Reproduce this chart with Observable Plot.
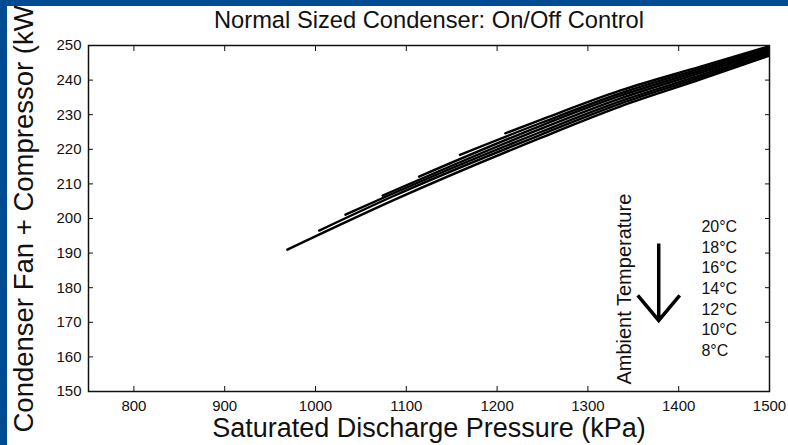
<!DOCTYPE html>
<html>
<head>
<meta charset="utf-8">
<script src="https://cdn.jsdelivr.net/npm/d3@7"></script>
<script src="https://cdn.jsdelivr.net/npm/@observablehq/plot@0.6"></script>
<style>
  html, body { margin: 0; padding: 0; background: #fff; }
  #wrap { position: relative; width: 788px; height: 445px; overflow: hidden; background: #fff; }
  #edge { position: absolute; left: 0; top: 0; width: 788px; height: 445px; box-sizing: border-box;
          border-left: 7px solid #004b91; border-top: 6px solid #004b91; pointer-events: none; }
</style>
</head>
<body>
<div id="wrap"><div id="chart"></div><div id="edge"></div></div>
<script>
// Ambient temperatures (°C), one curve each
const temps = [8, 10, 12, 14, 16, 18, 20];

// Saturated discharge pressure (kPa) and condenser fan + compressor power (kW) per ambient temperature
const p08 = [969, 1086, 1248, 1336, 1424, 1500];
const kw08 = [191.0, 205.3, 223.3, 232.4, 240.2, 247.1];
const p10 = [1004, 1086, 1248, 1336, 1424, 1500];
const kw10 = [196.5, 206.5, 224.2, 233.2, 240.8, 247.6];
const p12 = [1033, 1086, 1248, 1336, 1424, 1500];
const kw12 = [201.1, 207.3, 225.0, 233.9, 241.4, 248.0];
const p14 = [1074, 1248, 1336, 1424, 1500];
const kw14 = [206.6, 225.9, 234.7, 242.1, 248.5];
const p16 = [1114, 1248, 1336, 1424, 1500];
const kw16 = [212.1, 226.8, 235.5, 242.7, 248.9];
const p18 = [1159, 1248, 1336, 1424, 1500];
const kw18 = [218.4, 227.6, 236.2, 243.3, 249.4];
const p20 = [1209, 1248, 1336, 1424, 1500];
const kw20 = [224.6, 228.5, 237.0, 243.9, 249.8];

// Axis ticks
const xTicks = [800, 900, 1000, 1100, 1200, 1300, 1400, 1500];
const yTicks = [150, 160, 170, 180, 190, 200, 210, 220, 230, 240, 250];

// Texts
const title = "Normal Sized Condenser: On/Off Control";
const xLabel = "Saturated Discharge Pressure (kPa)";
const yLabel = "Condenser Fan + Compressor (kW)";
const legendTitle = "Ambient Temperature";
const tempLabels = temps.slice().reverse().map(t => `${t}\u00B0C`);

// Long-format rows for the line mark
const pressures = [p08, p10, p12, p14, p16, p18, p20];
const powers = [kw08, kw10, kw12, kw14, kw16, kw18, kw20];
const rows = temps.flatMap((t, i) =>
  pressures[i].map((p, j) => ({temp: t, pressure: p, power: powers[i][j]}))
);

// Downward arrow: shaft plus two wings at the tip
const downArrow = {
  draw(context, l) {
    context.moveTo(0, 0);
    context.lineTo(0, -l);
    context.moveTo(-21, -l + 25);
    context.lineTo(0, -l);
    context.lineTo(21, -l + 25);
  }
};

const font = "'Liberation Sans', Arial, Helvetica, sans-serif";
const plain = d => String(d);

const chart = Plot.plot({
  width: 788,
  height: 445,
  marginLeft: 88,
  marginRight: 19,
  marginTop: 45,
  marginBottom: 54,
  style: {fontFamily: font, background: "transparent", color: "#111"},
  x: {domain: [750, 1500]},
  y: {domain: [150, 250]},
  marks: [
    Plot.line(rows, {x: "pressure", y: "power", z: "temp", stroke: "#000", strokeWidth: 2.4, curve: "monotone-x", clip: true}),
    Plot.axisX(xTicks, {anchor: "bottom", tickSize: 0, tickPadding: 9, fontSize: 15, tickFormat: plain, label: null}),
    Plot.axisX(xTicks, {anchor: "bottom", tickSize: -5, tickFormat: () => "", label: null}),
    Plot.axisX(xTicks, {anchor: "top", tickSize: -5, tickFormat: () => "", label: null}),
    Plot.axisY(yTicks, {anchor: "left", tickSize: 0, tickPadding: 7, fontSize: 15, tickFormat: plain, label: null}),
    Plot.axisY(yTicks, {anchor: "left", tickSize: -5, tickFormat: () => "", label: null}),
    Plot.axisY(yTicks, {anchor: "right", tickSize: -5, tickFormat: () => "", label: null}),
    Plot.frame({stroke: "#111", strokeWidth: 1.5}),
    Plot.text([title], {text: d => d, frameAnchor: "top", lineAnchor: "bottom", dy: -18, fontSize: 23.7, fill: "#111"}),
    Plot.text([xLabel], {text: d => d, frameAnchor: "bottom", lineAnchor: "bottom", dy: 45, fontSize: 27, fill: "#111"}),
    Plot.text([yLabel], {text: d => d, frameAnchor: "bottom-left", textAnchor: "start", lineAnchor: "bottom", rotate: -90, dx: -56, dy: 41, fontSize: 27.5, fill: "#111"}),
    Plot.text([legendTitle], {text: d => d, x: 1348, y: 152, textAnchor: "start", lineAnchor: "bottom", rotate: -90, fontSize: 20, fill: "#111"}),
    Plot.vector([0], {x: 1378, y: 192.8, length: 77, rotate: 180, anchor: "start", shape: downArrow, stroke: "#000", strokeWidth: 3.5, strokeLinejoin: "miter", strokeLinecap: "butt"}),
    Plot.text([tempLabels.join("\n")], {text: d => d, x: 1425, y: 180.1, textAnchor: "start", lineAnchor: "middle", lineHeight: 1.29, fontSize: 16, fill: "#111"})
  ]
});

document.getElementById("chart").appendChild(chart);
</script>
</body>
</html>
